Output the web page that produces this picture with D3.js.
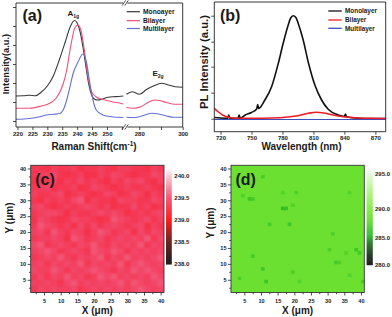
<!DOCTYPE html>
<html><head><meta charset="utf-8">
<script src="https://cdn.jsdelivr.net/npm/d3@7/dist/d3.min.js"></script>
<style>
body{margin:0;background:#fff}
svg{display:block}
text{font-family:"Liberation Sans",Arial,Helvetica,sans-serif;font-weight:bold;fill:#1a1a1a}
</style></head><body>
<svg id="chart" width="392" height="317"></svg>
<script>
// ---------------- DATA ----------------
// (a) Raman spectra, two axis segments
const ramanNames = ["Monoayer","Bilayer","Multilayer"];
const ramanMonoX1 = [219.5,222,224,226,228,230,232,234,236,237.5,238.5,239.2,240,241,242,243,244,245,246,247,248,250,252,254,255.5];
const ramanMonoY1 = [31,31.2,31.7,31.2,35,41,51,67,85,99,105,106.5,104,95,79,59,41,31,27.5,27,27.5,29.5,30.3,30.5,31];
const ramanMonoX2 = [274.1,276.7,280.1,283.5,286.5,290.4,293.4,296.5,300];
const ramanMonoY2 = [32.7,35.3,32.7,37.7,41,43.7,42,40.3,39.7];
const ramanBiX1 = [219.5,224,228,230.8,233,235.3,236.5,237.5,238.5,239.2,240.3,241.4,242.5,243.6,244.7,246.4,248,250,252,254.2,255.5];
const ramanBiY1 = [18.7,18.7,21,23.7,29,43,57,75,91,99,102,95,75,51,36,30,28,26.5,25,24,23];
const ramanBiX2 = [274.1,277.3,281,284,287.2,289.5,292.5,296.5,300];
const ramanBiY2 = [19.5,18.7,20.5,24.5,27,26.5,24.5,22.7,22.7];
const ramanMultiX1 = [219.5,224,227.5,229.7,231.9,234.2,235.3,236.4,237.5,238.6,240.3,241.9,243.1,244.2,245.3,246.4,248.6,251,253.1,255.5];
const ramanMultiY1 = [7.7,8.5,10.3,12,12.7,13.5,17,26,39,53,65,73,65,45,27,17,12,10.5,9.7,9.5];
const ramanMultiX2 = [274.1,278,282,285.8,289,292.5,296,300];
const ramanMultiY2 = [9.7,9.5,11.5,13.7,13,11,9.7,9.7];
const ramanTicksL = [220,225,230,235,240,245,250];
const ramanTicksLExtra = [255];
const ramanTicksR = [280,300];
const ramanTicksRExtra = [290];
const ramanYTicks = [6,25,44,63,82,101,120];

// (b) PL spectra
const plNames = ["Monolayer","Bilayer","Multilayer"];
const plMonoX = [714,720,727,728,729,737,738,739,744,750,755,756,757,763,769.5,776,780.7,785.6,788,790.4,793,795.2,800.1,804.9,811.4,817.9,824.3,834,840,841,842,850,865,880];
const plMonoY = [14.2,13.7,13.4,16.7,13.4,13.4,16.7,13.7,16.7,19.2,22.7,27.2,23.2,31.7,45,68.4,88.4,106.7,113.7,116,114.2,108.4,91.7,70,46.7,31.7,22.4,16.7,15.2,17.7,14.9,13.7,13.2,13.2];
const plBiX = [714,718,722,727,735,750,770,785,795,805,813,820,827,837,850,865,880];
const plBiY = [23.4,19.7,16.7,14.7,13.4,13.4,13.7,14.7,16,18.4,19.4,18.7,17.2,15.2,14,13.4,13.2];
const plMultiX = [714,880];
const plMultiY = [12.2,12.2];
const plTicks = [720,750,780,810,840,870];
const plYTicks = [13,39,65,90,116];

// (c) A1g peak position map (20x20 cells, digit code d -> 239.20 + 0.052*d cm-1), top row = Y 41
const mapCRows = [
 "44354453445435544354",
 "45564345335465434465",
 "34453546454354656435",
 "45634453465434544543",
 "54456345434653465354",
 "43545467354436554465",
 "56434545654534464534",
 "45665354456565345456",
 "36543465543476545645",
 "47654536464565456354",
 "56475465357645636465",
 "45565376456456565746",
 "67456546575465657465",
 "56764565476576465656",
 "45657546567465756567",
 "56465657465657467656",
 "65576465676546576765",
 "46465756457675656576",
 "55654675656567576567",
 "46565564565656567656"
];
const mapCBase = 239.20, mapCStep = 0.052;
const cbarCTicks = [238.0,238.5,239.0,239.5,240.0];

// (d) PL peak map: uniform level plus darker spots (X, Y in um)
const mapDLevel = 289.0;
const spotX = [10.9,6.8,7.6,16.4,17.2,20,16,12.9,18,19,31.2,7.8,10.9,11.9,19,21.8,3.8,30,32.7,33.5,35.2,38.5,39.2,40.3,36.2,36.8,4.1];
const spotY = [37.3,30.2,30.2,27.2,27.2,32,32,22.2,22.2,28.5,19.4,12,8.8,4.8,7.8,4.8,5.8,14.3,10,10,13.4,14,13.2,4.8,32.5,6.9,31.2];
const spotV = [287.2,286.6,287.0,286.0,286.3,287.4,287.5,287.1,286.8,287.5,287.4,287.1,286.8,286.6,287.4,287.6,287.4,287.4,287.0,287.4,287.6,286.8,286.9,287.1,287.6,287.6,287.6];
const cbarDTicks = [280.0,285.0,290.0,295.0];
const mapTicks = [5,10,15,20,25,30,35,40];
const mapMinor = [2.5,7.5,12.5,17.5,22.5,27.5,32.5,37.5];

// ---------------- DRAW ----------------
const svg = d3.select("#chart");
const defs = svg.append("defs");

function styleAxis(g, fs){
  g.select(".domain").remove();
  g.selectAll("line").attr("stroke","#222").attr("stroke-width",0.8);
  g.selectAll("text").attr("font-size",fs).attr("fill","#1a1a1a");
}
function breakMark(x,y){
  svg.append("rect").attr("x",x-2.2).attr("y",y-1).attr("width",4.4).attr("height",2).attr("fill","#fff");
  [-1.3,1.3].forEach(o=>svg.append("line").attr("x1",x+o-1.8).attr("y1",y+2.6).attr("x2",x+o+1.8).attr("y2",y-2.6)
     .attr("stroke","#222").attr("stroke-width",0.8));
}

// ===== Panel (a) =====
const aL=16,aR=182.7,aT=3,aB=127;
const xa1=d3.scaleLinear().domain([219.5,255.8]).range([aL,124.3]);
const xa2=d3.scaleLinear().domain([274,300]).range([126.2,aR]);
const ya=d3.scaleLinear().domain([0,124]).range([aB,aT]);
const ramanColors=["#383838","#ef4f78","#6670d2"];
const ramanSegs=[[ramanMonoX1,ramanMonoY1,ramanMonoX2,ramanMonoY2],[ramanBiX1,ramanBiY1,ramanBiX2,ramanBiY2],[ramanMultiX1,ramanMultiY1,ramanMultiX2,ramanMultiY2]];
ramanSegs.forEach((s,i)=>{
  const l1=d3.line().x(d=>xa1(d[0])).y(d=>ya(d[1])).curve(d3.curveMonotoneX);
  const l2=d3.line().x(d=>xa2(d[0])).y(d=>ya(d[1])).curve(d3.curveMonotoneX);
  svg.append("path").attr("d",l1(d3.zip(s[0],s[1]))).attr("fill","none").attr("stroke",ramanColors[i]).attr("stroke-width",1.1);
  svg.append("path").attr("d",l2(d3.zip(s[2],s[3]))).attr("fill","none").attr("stroke",ramanColors[i]).attr("stroke-width",1.1);
});
// frame
svg.append("path").attr("d",`M${aL},${aT}V${aB}H${aR}V${aT}Z`).attr("fill","none").attr("stroke","#222").attr("stroke-width",0.9);
styleAxis(svg.append("g").attr("transform",`translate(0,${aB})`).call(d3.axisBottom(xa1).tickValues(ramanTicksL).tickSize(3).tickPadding(2.2)),"6px");
styleAxis(svg.append("g").attr("transform",`translate(0,${aB})`).call(d3.axisBottom(xa1).tickValues(ramanTicksLExtra).tickSize(3).tickFormat("")),"6px");
styleAxis(svg.append("g").attr("transform",`translate(0,${aB})`).call(d3.axisBottom(xa2).tickValues(ramanTicksR).tickSize(3).tickPadding(2.2)),"6px");
styleAxis(svg.append("g").attr("transform",`translate(0,${aB})`).call(d3.axisBottom(xa2).tickValues(ramanTicksRExtra).tickSize(3).tickFormat("")),"6px");
styleAxis(svg.append("g").attr("transform",`translate(${aL},0)`).call(d3.axisLeft(ya).tickValues(ramanYTicks).tickSize(3).tickFormat("")),"6px");
breakMark(125.2,aT); breakMark(125.2,aB);
// legend
ramanNames.forEach((n,i)=>{
  const y=[11.7,20.7,28.5][i];
  svg.append("line").attr("x1",126.7).attr("x2",140).attr("y1",y).attr("y2",y).attr("stroke",ramanColors[i]).attr("stroke-width",1.2);
  svg.append("text").attr("x",143).attr("y",y+2.3).attr("font-size","6.7px").attr("fill","#222").text(n);
});
// peak labels
const t1=svg.append("text").attr("x",67.5).attr("y",16).attr("font-size","8px");
t1.append("tspan").text("A");
t1.append("tspan").attr("font-size","5px").attr("dy",2).text("1g");
const t2=svg.append("text").attr("x",152.5).attr("y",76).attr("font-size","8px");
t2.append("tspan").text("E");
t2.append("tspan").attr("font-size","5px").attr("dy",2).text("2g");
svg.append("text").attr("x",22.5).attr("y",21).attr("font-size","16px").attr("fill","#111").text("(a)");
const xt=svg.append("text").attr("x",94).attr("y",149.5).attr("text-anchor","middle").attr("font-size","10px");
xt.append("tspan").text("Raman Shift(cm");
xt.append("tspan").attr("font-size","6.5px").attr("dy",-4).text("-1");
xt.append("tspan").attr("dy",4).text(")");
svg.append("text").attr("transform","translate(9,64) rotate(-90)").attr("text-anchor","middle").attr("font-size","9.3px").text("Intensity(a.u.)");

// ===== Panel (b) =====
const bL=214.3,bR=385.7,bT=2,bB=131.7;
const xb=d3.scaleLinear().domain([714,880]).range([bL,bR]);
const yb=d3.scaleLinear().domain([0,129.7]).range([bB,bT]);
const plColors=["#111111","#ee1c25","#3b4fc0"];
const plSeries=[[plMonoX,plMonoY],[plBiX,plBiY],[plMultiX,plMultiY]];
const plDrawOrder=[0,2,1];
plDrawOrder.forEach(i=>{
  const l=d3.line().x(d=>xb(d[0])).y(d=>yb(d[1])).curve(d3.curveMonotoneX);
  svg.append("path").attr("d",l(d3.zip(plSeries[i][0],plSeries[i][1]))).attr("fill","none")
    .attr("stroke",plColors[i]).attr("stroke-width",i===2?1.2:1.6);
});
svg.append("path").attr("d",`M${bL},${bT}V${bB}H${bR}V${bT}Z`).attr("fill","none").attr("stroke","#222").attr("stroke-width",0.9);
styleAxis(svg.append("g").attr("transform",`translate(0,${bB})`).call(d3.axisBottom(xb).tickValues(plTicks).tickSize(3).tickPadding(1.5)),"6px");
styleAxis(svg.append("g").attr("transform",`translate(${bL},0)`).call(d3.axisLeft(yb).tickValues(plYTicks).tickSize(3).tickFormat("")),"6px");
plNames.forEach((n,i)=>{
  const y=[11,20,28.3][i];
  svg.append("line").attr("x1",328.3).attr("x2",341.7).attr("y1",y).attr("y2",y).attr("stroke",plColors[i]).attr("stroke-width",1.3);
  svg.append("text").attr("x",345).attr("y",y+2.2).attr("font-size","6.4px").attr("fill","#222").text(n);
});
svg.append("text").attr("x",220).attr("y",21).attr("font-size","16px").attr("fill","#111").text("(b)");
svg.append("text").attr("x",301.5).attr("y",149.5).attr("text-anchor","middle").attr("font-size","10px").text("Wavelength (nm)");
svg.append("text").attr("transform","translate(208,62) rotate(-90)").attr("text-anchor","middle").attr("font-size","11.3px").text("PL Intensity (a.u.)");

// ===== Heatmaps =====
const colorC=d3.scaleLinear().domain([238.0,238.5,239.0,239.5,240.0,240.17])
  .range(["#000000","#5a0808","#ff0000","#f24466","#f9c6d2","#ffffff"]);
const colorD=d3.scaleLinear().domain([280,282,284,285.5,288,290,292.5,295,296.5])
  .range(["#000000","#0d2d0d","#166c16","#22b422","#5ed82a","#78e836","#a8f27a","#e0fbd6","#ffffff"]);

function drawMap(px0,px1,py0,py1,cells,color,blurId,blurSd,baseVal,label,ylabY){
  const xs=d3.scaleLinear().domain([1,41]).range([px0,px1]);
  const ys=d3.scaleLinear().domain([1,41]).range([py1,py0]);
  const clipId="clip"+label;
  defs.append("clipPath").attr("id",clipId).append("rect").attr("x",px0).attr("y",py0).attr("width",px1-px0).attr("height",py1-py0);
  const f=defs.append("filter").attr("id",blurId).attr("x","-5%").attr("y","-5%").attr("width","110%").attr("height","110%");
  f.append("feGaussianBlur").attr("stdDeviation",blurSd);
  const g=svg.append("g").attr("clip-path",`url(#${clipId})`);
  g.append("rect").attr("x",px0).attr("y",py0).attr("width",px1-px0).attr("height",py1-py0).attr("fill",color(baseVal));
  g.append("g").attr("filter",`url(#${blurId})`).selectAll("rect").data(cells).join("rect")
    .attr("x",d=>xs(d.x0)).attr("y",d=>ys(d.y1)).attr("width",d=>xs(d.x1)-xs(d.x0)+0.4).attr("height",d=>ys(d.y0)-ys(d.y1)+0.4)
    .attr("fill",d=>color(d.v));
  svg.append("rect").attr("x",px0).attr("y",py0).attr("width",px1-px0).attr("height",py1-py0).attr("fill","none").attr("stroke","#333").attr("stroke-width",0.9);
  styleAxis(svg.append("g").attr("transform",`translate(0,${py1})`).call(d3.axisBottom(xs).tickValues(mapTicks).tickSize(3).tickPadding(3.8)),"5.6px");
  styleAxis(svg.append("g").attr("transform",`translate(0,${py1})`).call(d3.axisBottom(xs).tickValues(mapMinor).tickSize(1.8).tickFormat("")),"5.6px");
  styleAxis(svg.append("g").attr("transform",`translate(${px0},0)`).call(d3.axisLeft(ys).tickValues(mapTicks).tickSize(3).tickPadding(1.5)),"5.6px");
  styleAxis(svg.append("g").attr("transform",`translate(${px0},0)`).call(d3.axisLeft(ys).tickValues(mapMinor).tickSize(1.8).tickFormat("")),"5.6px");
  svg.append("text").attr("x",px0+4.5).attr("y",py0+19.5).attr("font-size","16px").attr("fill","#111").text("("+label+")");
  const xt=svg.append("text").attr("x",(px0+px1)/2).attr("y",py1+21.5).attr("text-anchor","middle").attr("font-size","10px");
  xt.text("X (\u03bcm)");
  svg.append("text").attr("transform",`translate(${px0-17.5},${ylabY}) rotate(-90)`).attr("text-anchor","middle").attr("font-size","10px").text("Y (\u03bcm)");
}

// (c) cells
const cellsC=[];
mapCRows.forEach((row,r)=>{
  row.split("").forEach((ch,c)=>{
    cellsC.push({x0:1+2*c,x1:3+2*c,y0:39-2*r,y1:41-2*r,v:mapCBase+mapCStep*(+ch)});
  });
});
drawMap(30.7,164,165.3,292.5,cellsC,colorC,"blurC",1.2,mapCBase+mapCStep*5,"c",218);

// (d) cells
const cellsD=[];
spotX.forEach((x,i)=>{
  const cx=Math.floor(spotX[i]), cy=Math.floor(spotY[i]);
  cellsD.push({x0:cx,x1:cx+1,y0:cy,y1:cy+1,v:spotV[i]});
});
drawMap(231,364.3,165.3,292.5,cellsD,colorD,"blurD",0.5,mapDLevel,"d",223);

// colorbars
function colorbar(x,w,yTop,yBot,pos,color,ticks,labelX,tickColors){
  for(let y=yTop;y<yBot;y+=0.5){
    svg.append("rect").attr("x",x).attr("y",y).attr("width",w).attr("height",0.7).attr("fill",color(pos.invert(y+0.25)));
  }
  ticks.forEach((t,i)=>{
    svg.append("text").attr("x",labelX).attr("y",pos(t)+2.1).attr("font-size","6px")
      .attr("fill",tickColors?tickColors[i]:"#1a1a1a").text(d3.format(".1f")(t));
  });
}
const posC=d3.scaleLinear().domain([238.0,240.0]).range([263.7,175.7]);
colorbar(166,5.7,168.3,264.3,posC,colorC,cbarCTicks,174.3,["#222","#222","#222","#2e2e8a","#222"]);
const posD=d3.scaleLinear().domain([280,285,290,295,296.4]).range([264.6,238,209.3,174,168.5]);
colorbar(366.7,6,168.5,265,posD,colorD,cbarDTicks,375,null);
</script></body></html>
